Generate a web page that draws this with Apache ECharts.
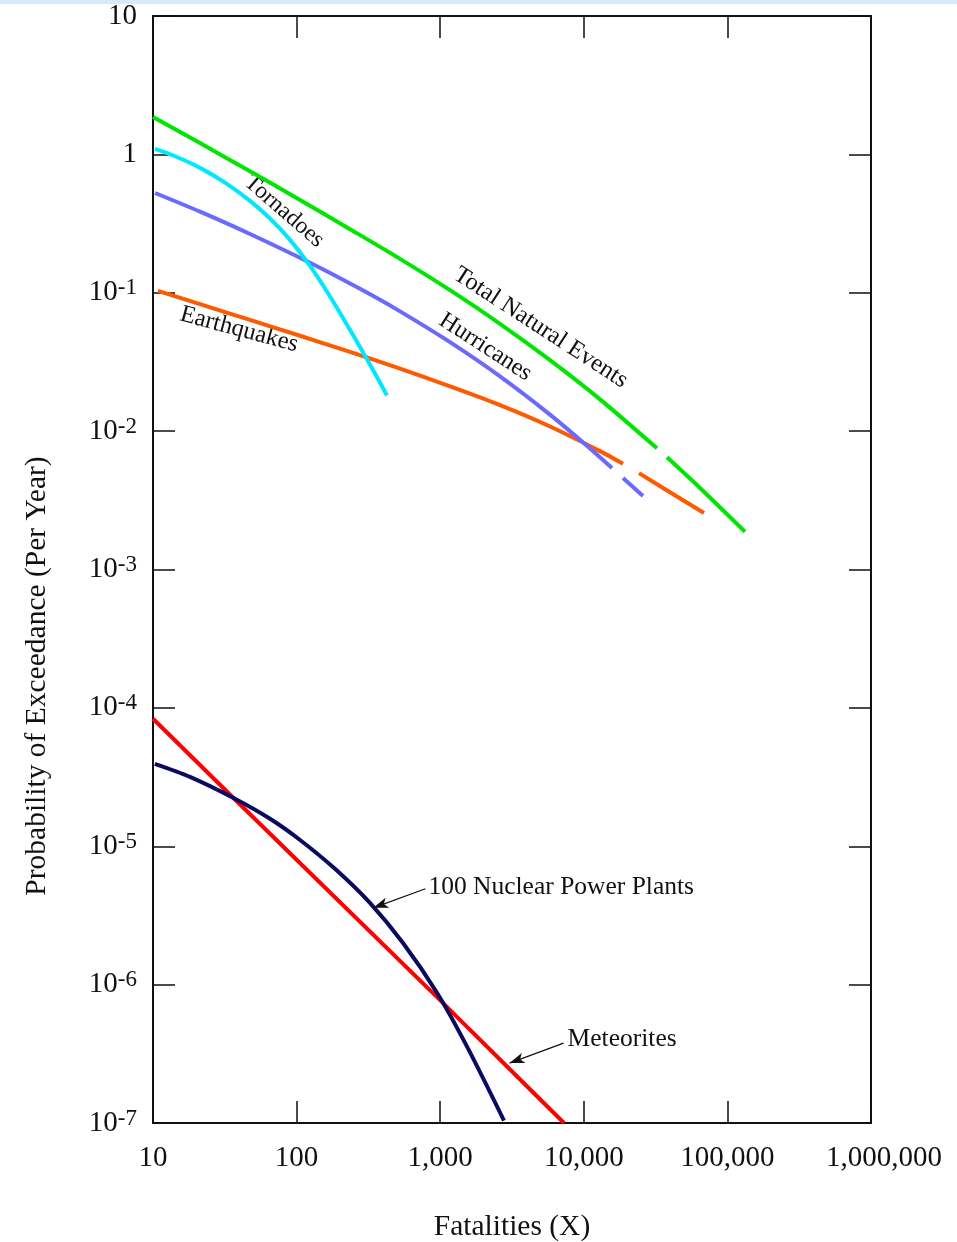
<!DOCTYPE html>
<html>
<head>
<meta charset="utf-8">
<script src="https://cdn.jsdelivr.net/npm/echarts/dist/echarts.min.js"></script>
<style>
  html, body { margin: 0; padding: 0; background: #fff; }
  #chart { width: 957px; height: 1242px; }
</style>
</head>
<body>
<div id="chart"></div>
<script>
// fatalities (x) against probability of exceedance per year
const xTickLabels = ['10', '100', '1,000', '10,000', '100,000', '1,000,000'];
const yExponents = [-7, -6, -5, -4, -3, -2, -1, 0, 1];

// null pair = the break drawn in the original curve
const totalNatural = [[10, 1.863], [21.25, 1.207], [47.37, 0.7548], [105.6, 0.4684], [235.4, 0.2881], [525, 0.1758], [1170, 0.1044], [2609, 0.05963], [5817, 0.03259], [12970, 0.01697], [32340, 0.00751], [null, null], [37960, 0.006465], [64450, 0.00388], [132600, 0.001873]];
const tornadoes = [[10.33, 1.094], [14.23, 0.9689], [21.25, 0.799], [31.72, 0.6255], [47.37, 0.4614], [65.28, 0.3438], [89.98, 0.2411], [124, 0.1564], [170.9, 0.09403], [235.4, 0.05396], [290, 0.03717], [351.6, 0.02607], [426.1, 0.01811]];
const hurricanes = [[10.33, 0.526], [21.25, 0.3855], [47.37, 0.2659], [124, 0.1647], [276.4, 0.1067], [525, 0.07337], [1170, 0.04395], [2609, 0.02488], [5817, 0.01316], [11047, 0.007499], [15720, 0.005413], [null, null], [18750, 0.00459], [25840, 0.003401]];
const earthquakes = [[10.83, 0.1031], [21.25, 0.08275], [47.37, 0.0636], [105.6, 0.0489], [235.4, 0.03736], [525, 0.02828], [1170, 0.02103], [2609, 0.01541], [5817, 0.01081], [12970, 0.007167], [18750, 0.005803], [null, null], [24240, 0.004971], [39840, 0.003612], [68710, 0.002564]];
const meteorites = [[10, 8.34e-5], [35.6, 2.28e-5], [920, 8.4e-7], [7280, 1.0e-7]];
const nuclear = [[10.3, 3.94e-5], [18.1, 3.17e-5], [36.1, 2.24e-5], [65.3, 1.58e-5], [105.7, 1.11e-5], [185, 6.87e-6], [324, 3.90e-6], [551, 2.00e-6], [950, 8.73e-7], [1538, 3.56e-7], [2780, 1.04e-7]];

const FONT = "'Liberation Serif', 'DejaVu Serif', serif";
const INK = '#111';

function axisCommon(pos, showLabel) {
  return {
    type: 'log', logBase: 10, position: pos,
    axisLine: { show: true, onZero: false, lineStyle: { color: INK, width: 2 } },
    axisTick: { show: true, inside: true, length: 22, lineStyle: { color: INK, width: 1.5 } },
    minorTick: { show: false },
    splitLine: { show: false },
    axisLabel: { show: showLabel }
  };
}

function curve(name, data, color, extra) {
  return Object.assign({
    name: name, type: 'line', data: data, smooth: 0.3,
    showSymbol: false, symbol: 'none', connectNulls: false,
    lineStyle: { color: color, width: 4 },
    xAxisIndex: 0, yAxisIndex: 0, silent: true
  }, extra || {});
}

function arrow(from, to) {
  return {
    silent: true, symbol: ['none', 'arrow'], symbolSize: [8, 15],
    label: { show: false },
    lineStyle: { color: INK, width: 1.2, type: 'solid' },
    data: [[{ coord: from }, { coord: to }]]
  };
}

const xBottom = axisCommon('bottom', true);
xBottom.min = 10; xBottom.max = 1e6;
xBottom.axisLabel = {
  show: true, margin: 21, color: INK, fontFamily: FONT, fontSize: 29,
  formatter: v => {
    const i = Math.round(Math.log10(v)) - 1;
    // the last label sits a little right of its tick in the original
    return i === xTickLabels.length - 1 ? '{r|' + xTickLabels[i] + '}' : xTickLabels[i];
  },
  rich: { r: { fontSize: 29, fontFamily: FONT, color: INK, padding: [0, 0, 0, 26] } }
};
xBottom.name = 'Fatalities (X)';
xBottom.nameLocation = 'middle';
xBottom.nameGap = 89;
xBottom.nameTextStyle = { color: INK, fontFamily: FONT, fontSize: 29.5 };

const xTop = axisCommon('top', false);
xTop.min = 10; xTop.max = 1e6;

const yLeft = axisCommon('left', true);
yLeft.min = 1e-7; yLeft.max = 10;
yLeft.axisLabel = {
  show: true, margin: 16, color: INK, fontFamily: FONT,
  formatter: v => {
    const e = Math.round(Math.log10(v));
    if (yExponents.indexOf(e) < 0) return '';
    if (e === 1) return '{b|10}';
    if (e === 0) return '{b|1}';
    return '{b|10}{s|' + e + '}';
  },
  rich: {
    b: { fontSize: 29, lineHeight: 32, fontFamily: FONT, color: INK },
    s: { fontSize: 23, lineHeight: 19, verticalAlign: 'top', fontFamily: FONT, color: INK }
  }
};

const yRight = axisCommon('right', false);
yRight.min = 1e-7; yRight.max = 10;

const option = {
  animation: false,
  backgroundColor: '#fff',
  grid: { left: 153, right: 86, top: 16, bottom: 119, containLabel: false, outerBoundsMode: 'none' },
  xAxis: [xBottom, xTop],
  yAxis: [yLeft, yRight],
  series: [
    curve('Earthquakes', earthquakes, '#ff5a00'),
    curve('Hurricanes', hurricanes, '#6a6aff'),
    curve('Tornadoes', tornadoes, '#00e8ff'),
    curve('Total Natural Events', totalNatural, '#00e600'),
    curve('Meteorites', meteorites, '#ff0000', { smooth: false, markLine: arrow([7230, 3.78e-7], [3040, 2.71e-7]) }),
    curve('100 Nuclear Power Plants', nuclear, '#0a0a60', { markLine: arrow([789, 4.93e-6], [342, 3.59e-6]) })
  ]
};

const chart = echarts.init(document.getElementById('chart'));
chart.setOption(option);

function px(p) {
  return chart.convertToPixel({ xAxisIndex: 0, yAxisIndex: 0 }, p);
}

// labels written along the curves
const curveLabels = [
  { text: 'Tornadoes', at: [81.9, 0.387], angle: 41, size: 23.5 },
  { text: 'Total Natural Events', at: [5000, 0.056], angle: 33, size: 24.5 },
  { text: 'Hurricanes', at: [2065, 0.0405], angle: 33, size: 24 },
  { text: 'Earthquakes', at: [39.8, 0.0542], angle: 15, size: 24.5 }
];
// labels pointing with arrows
const pointerLabels = [
  { text: '100 Nuclear Power Plants', at: [828, 5.09e-6] },
  { text: 'Meteorites', at: [7710, 4.04e-7] }
];

const graphics = [
  { type: 'rect', shape: { x: 0, y: 0, width: 957, height: 4 }, style: { fill: '#d8e9fb' }, silent: true }
];
curveLabels.forEach(l => {
  const p = px(l.at);
  graphics.push({
    type: 'text', x: p[0], y: p[1], rotation: -l.angle * Math.PI / 180, silent: true,
    style: { text: l.text, fill: INK, fontFamily: FONT, fontSize: l.size, align: 'center', verticalAlign: 'middle', textAlign: 'center', textVerticalAlign: 'middle' }
  });
});
pointerLabels.forEach(l => {
  const p = px(l.at);
  graphics.push({
    type: 'text', x: p[0], y: p[1], silent: true,
    style: { text: l.text, fill: INK, fontFamily: FONT, fontSize: 25.5, align: 'left', verticalAlign: 'middle', textAlign: 'left', textVerticalAlign: 'middle' }
  });
});
graphics.push({
  type: 'text', x: 37, y: 676, rotation: Math.PI / 2, silent: true,
  style: { text: 'Probability of Exceedance (Per Year)', fill: INK, fontFamily: FONT, fontSize: 29.5, align: 'center', verticalAlign: 'middle', textAlign: 'center', textVerticalAlign: 'middle' }
});

chart.setOption({ graphic: graphics });
</script>
</body>
</html>
